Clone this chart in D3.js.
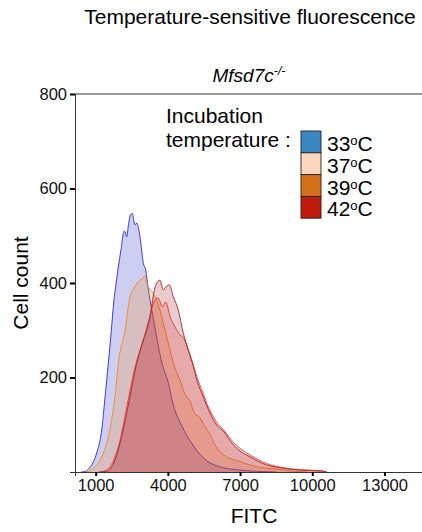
<!DOCTYPE html>
<html>
<head>
<meta charset="utf-8">
<script src="https://cdn.jsdelivr.net/npm/d3@7"></script>
<style>
  body { margin: 0; background: #fff; }
  svg text { font-family: "Liberation Sans", Arial, sans-serif; }
</style>
</head>
<body>
<svg id="chart" width="422" height="532"></svg>
<script>
// Data: [FITC, cell count]
const temps = ["33", "37", "39", "42"];
const xTicks = [1000, 4000, 7000, 10000, 13000];
const yTicks = [200, 400, 600, 800];

const s33 = [[400,0],[560,1],[700,6],[835,15],[1040,40],[1250,89],[1390,159],[1525,230],[1650,300],[1750,360],[1850,400],[1940,434],[2050,470],[2150,505],[2200,510],[2290,498],[2360,523],[2450,545],[2525,547],[2595,529],[2640,523],[2705,527],[2840,498],[2980,442],[3080,427],[3190,385],[3258,364],[3465,305],[3745,232],[4020,188],[4225,142],[4575,98],[4990,61],[5470,30],[6030,13],[7000,4],[7900,1],[8500,0]];
const s37 = [[600,0],[700,1],[900,8],[1250,32],[1525,75],[1800,159],[1940,230],[2220,300],[2425,371],[2600,390],[2770,403],[2950,410],[3050,415],[3150,395],[3230,389],[3465,371],[3670,343],[3950,286],[4300,220],[4500,195],[4710,165],[4925,150],[5100,125],[5335,115],[5540,96],[5750,80],[5950,58],[6300,37],[7000,22],[7700,11],[8530,6],[9360,1],[9800,0]];
const s39 = [[1100,0],[1400,3],[1700,20],[2000,65],[2300,140],[2600,215],[2980,279],[3200,320],[3465,364],[3600,368],[3770,350],[3910,360],[4090,329],[4300,307],[4500,290],[4640,285],[4850,258],[5060,226],[5200,202],[5470,166],[5700,135],[5890,117],[6100,100],[6300,90],[6600,70],[6860,56],[7415,36],[8105,18],[8800,9],[9490,5],[10450,2],[10600,0]];
const s42 = [[1200,0],[1460,1],[1800,25],[2080,75],[2425,159],[2705,230],[2950,275],[3120,300],[3260,330],[3400,375],[3500,396],[3670,406],[3810,385],[3880,389],[4060,396],[4225,371],[4430,343],[4640,294],[4850,258],[5060,223],[5200,195],[5470,159],[5700,130],[5890,110],[6100,95],[6300,87],[6600,65],[6860,50],[7415,32],[8105,15],[8800,8],[9490,4],[10450,2],[10600,0]];

const series = [s33, s37, s39, s42];
const lineColors = ["#2b2bc8", "#f5891f", "#ee3b3b", "#a0282a"];
const keyColors = ["#3a87c3", "#fcd5bf", "#d5701a", "#c01a0c"];

const svg = d3.select("#chart");
const plot = {left: 75, right: 422, top: 94, bottom: 472};

const x = d3.scaleLinear().domain([140, 14560]).range([plot.left, plot.right]);
const y = d3.scaleLinear().domain([0, 800]).range([plot.bottom, plot.top]);

// density areas, drawn in factor order
const area = d3.area()
    .x(d => x(d[0]))
    .y0(y(0))
    .y1(d => y(d[1]))
    .curve(d3.curveMonotoneX);
const line = d3.line()
    .x(d => x(d[0]))
    .y(d => y(d[1]))
    .curve(d3.curveMonotoneX);

series.forEach((s, i) => {
    svg.append("path")
        .datum(s)
        .attr("fill", lineColors[i])
        .attr("fill-opacity", 0.23)
        .attr("d", area);
    svg.append("path")
        .datum(s)
        .attr("fill", "none")
        .attr("stroke", lineColors[i])
        .attr("stroke-width", 0.9)
        .attr("d", line);
});

// axes
const xAxis = svg.append("g")
    .attr("transform", `translate(0,${plot.bottom})`)
    .call(d3.axisBottom(x).tickValues(xTicks).tickSize(4).tickPadding(3).tickFormat(d3.format("d")));
const yAxis = svg.append("g")
    .attr("transform", `translate(${plot.left},0)`)
    .call(d3.axisLeft(y).tickValues(yTicks).tickSize(5).tickPadding(3));

[xAxis, yAxis].forEach(g => {
    g.select(".domain").attr("stroke", "#333").attr("stroke-width", 1);
    g.selectAll(".tick line").attr("stroke", "#000").attr("stroke-width", 2);
    g.selectAll(".tick text").attr("fill", "#111").style("font-size", "16.5px");
});

// top border line
svg.append("line")
    .attr("x1", plot.left).attr("x2", plot.right)
    .attr("y1", plot.top).attr("y2", plot.top)
    .attr("stroke", "#333").attr("stroke-width", 1);

// titles
svg.append("text")
    .attr("x", 250).attr("y", 24)
    .attr("text-anchor", "middle")
    .style("font-size", "21px")
    .text("Temperature-sensitive fluorescence");

const sub = svg.append("text")
    .attr("x", 249).attr("y", 81.5)
    .attr("text-anchor", "middle")
    .style("font-size", "19px")
    .style("font-style", "italic");
sub.append("tspan").text("Mfsd7c");
sub.append("tspan").attr("dy", -7).style("font-size", "12.5px").text("-/-");

svg.append("text")
    .attr("x", 254).attr("y", 523)
    .attr("text-anchor", "middle")
    .style("font-size", "21px")
    .text("FITC");

svg.append("text")
    .attr("transform", `translate(28,${(plot.top + plot.bottom) / 2}) rotate(-90)`)
    .attr("text-anchor", "middle")
    .style("font-size", "21px")
    .text("Cell count");

// legend
svg.append("text")
    .attr("x", 166).attr("y", 123)
    .style("font-size", "21px")
    .text("Incubation");
svg.append("text")
    .attr("x", 166).attr("y", 147)
    .style("font-size", "21px")
    .text("temperature :");

const keyH = 21.8;
temps.forEach((t, i) => {
    svg.append("rect")
        .attr("x", 301).attr("y", 131 + i * keyH)
        .attr("width", 20).attr("height", keyH)
        .attr("fill", keyColors[i])
        .attr("stroke", "#222").attr("stroke-width", 0.9);
    const lab = svg.append("text")
        .attr("x", 327).attr("y", 151 + i * keyH)
        .style("font-size", "21px");
    lab.append("tspan").text(t);
    lab.append("tspan").attr("dy", -6).style("font-size", "13px").text("o");
    lab.append("tspan").attr("dy", 6).text("C");
});
</script>
</body>
</html>
